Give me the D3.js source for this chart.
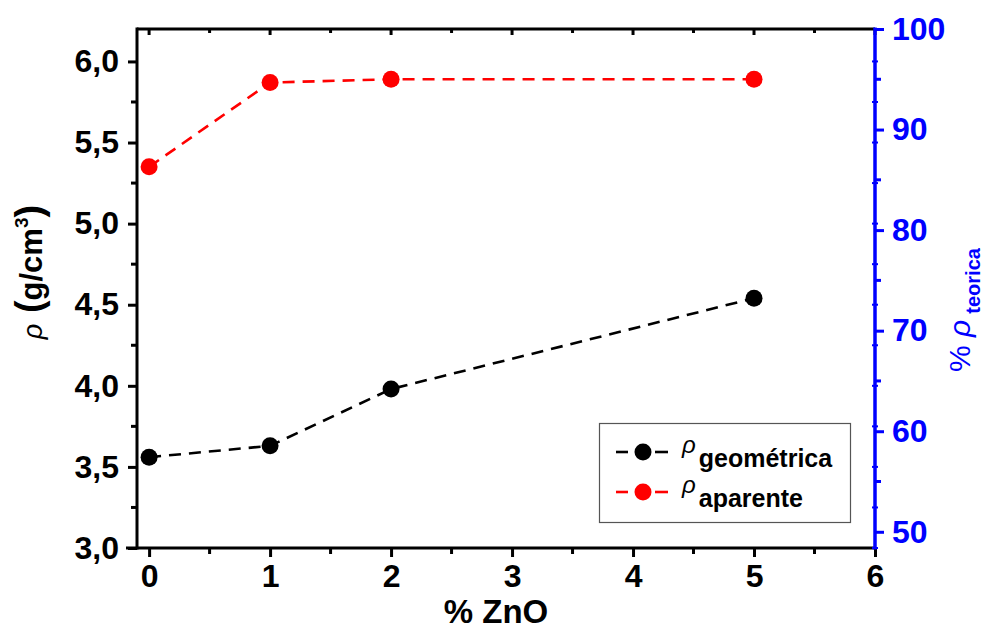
<!DOCTYPE html>
<html>
<head>
<meta charset="utf-8">
<script src="https://cdn.jsdelivr.net/npm/d3@7"></script>
<style>
  html, body { margin: 0; padding: 0; background: #fff; }
  svg { display: block; font-family: "Liberation Sans", Arial, sans-serif; }
</style>
</head>
<body>
<svg id="chart" width="990" height="630"></svg>
<script>
// % ZnO content of each sample
const zno = [0, 1, 2, 5];
// Geometric density (g/cm3)
const rhoGeometrica = [3.56, 3.63, 3.98, 4.54];
// Apparent density (g/cm3)
const rhoAparente = [5.35, 5.87, 5.89, 5.89];
// Theoretical density used for the right-hand % axis
const rhoTeorica = 6.2;

const xTicks = [0, 1, 2, 3, 4, 5, 6];
const yLeftTicks = [3.0, 3.5, 4.0, 4.5, 5.0, 5.5, 6.0];
const yRightTicks = [50, 60, 70, 80, 90, 100];

const series = [
  { name: "geométrica", values: rhoGeometrica, color: "#000000" },
  { name: "aparente", values: rhoAparente, color: "#ff0000" }
];

const svg = d3.select("#chart");
const L = 137, R = 875, T = 29, B = 548;
const tickFont = 32;

const x = d3.scaleLinear().domain([-0.1, 6]).range([L, R]);
const yL = d3.scaleLinear().domain([3.0, 6.2]).range([B, T]);
const yR = d3.scaleLinear().domain([3.0 / rhoTeorica * 100, 100]).range([B, T]);

const fmtComma = d => d3.format(".1f")(d).replace(".", ",");

// Frame top
svg.append("line").attr("x1", L).attr("x2", R).attr("y1", T).attr("y2", T)
  .attr("stroke", "#000").attr("stroke-width", 3);

// Top inward ticks
svg.append("g").selectAll("line").data(d3.range(0, 6.01, 0.5)).join("line")
  .attr("x1", d => x(d)).attr("x2", d => x(d))
  .attr("y1", T).attr("y2", d => T + (Number.isInteger(d) ? 6 : 4))
  .attr("stroke", "#000").attr("stroke-width", 3);

// Bottom axis
const xAxis = d3.axisBottom(x).tickValues(xTicks).tickSize(9).tickPadding(7).tickFormat(d3.format("d"));
const gx = svg.append("g").attr("transform", `translate(0,${B})`).call(xAxis);
gx.select(".domain").remove();
gx.append("line").attr("x1", L - 11).attr("x2", R).attr("y1", 0).attr("y2", 0)
  .attr("stroke", "#000").attr("stroke-width", 3);
gx.selectAll(".tick line").attr("stroke", "#000").attr("stroke-width", 3);
gx.selectAll(".tick text").attr("fill", "#000").attr("font-size", tickFont).attr("font-weight", "bold")
  .attr("font-family", "Liberation Sans, Arial, sans-serif");
gx.append("g").selectAll("line").data(d3.range(0.5, 6, 1)).join("line")
  .attr("x1", d => x(d)).attr("x2", d => x(d)).attr("y1", 0).attr("y2", 6)
  .attr("stroke", "#000").attr("stroke-width", 3);

// Left axis
const yAxisL = d3.axisLeft(yL).tickValues(yLeftTicks).tickSize(9).tickPadding(9).tickFormat(fmtComma);
const gyl = svg.append("g").attr("transform", `translate(${L},0)`).call(yAxisL);
gyl.select(".domain").remove();
gyl.append("line").attr("x1", 0).attr("x2", 0).attr("y1", T - 1.5).attr("y2", B + 1.5)
  .attr("stroke", "#000").attr("stroke-width", 3);
gyl.selectAll(".tick line").attr("stroke", "#000").attr("stroke-width", 3);
gyl.selectAll(".tick text").attr("fill", "#000").attr("font-size", tickFont).attr("font-weight", "bold")
  .attr("font-family", "Liberation Sans, Arial, sans-serif");
gyl.append("g").selectAll("line").data(d3.range(3.25, 6.2, 0.5)).join("line")
  .attr("x1", 0).attr("x2", -6).attr("y1", d => yL(d)).attr("y2", d => yL(d))
  .attr("stroke", "#000").attr("stroke-width", 3);

// Right axis (blue)
const blue = "#0000ff";
const yAxisR = d3.axisRight(yR).tickValues(yRightTicks).tickSize(9).tickPadding(8).tickFormat(d3.format("d"));
const gyr = svg.append("g").attr("transform", `translate(${R},0)`).call(yAxisR);
gyr.select(".domain").remove();
gyr.append("line").attr("x1", 0).attr("x2", 0).attr("y1", T - 1.5).attr("y2", B + 1.5)
  .attr("stroke", blue).attr("stroke-width", 3.5);
gyr.selectAll(".tick line").attr("stroke", blue).attr("stroke-width", 3);
gyr.selectAll(".tick text").attr("fill", blue).attr("font-size", tickFont).attr("font-weight", "bold")
  .attr("font-family", "Liberation Sans, Arial, sans-serif");
gyr.append("g").selectAll("line").data(d3.range(55, 100, 10)).join("line")
  .attr("x1", 0).attr("x2", 6).attr("y1", d => yR(d)).attr("y2", d => yR(d))
  .attr("stroke", blue).attr("stroke-width", 3);
// small nubs mirroring the left-axis ticks
gyr.append("g").selectAll("line").data(d3.range(3.0, 6.2, 0.25)).join("line")
  .attr("x1", -3).attr("x2", 3).attr("y1", d => yL(d)).attr("y2", d => yL(d))
  .attr("stroke", blue).attr("stroke-width", 2);

// Series lines and markers
const line = d3.line().x(d => x(d[0])).y(d => yL(d[1]));
series.forEach(s => {
  const pts = zno.map((z, i) => [z, s.values[i]]);
  svg.append("path").datum(pts).attr("d", line)
    .attr("fill", "none").attr("stroke", s.color).attr("stroke-width", 2.6)
    .attr("stroke-dasharray", "12,8");
  svg.append("g").selectAll("circle").data(pts).join("circle")
    .attr("cx", d => x(d[0])).attr("cy", d => yL(d[1])).attr("r", 8.5)
    .attr("fill", s.color);
});

// Legend
const lg = svg.append("g");
lg.append("rect").attr("x", 599.5).attr("y", 423.5).attr("width", 251).attr("height", 99)
  .attr("fill", "#fff").attr("stroke", "#555").attr("stroke-width", 1.2);
series.forEach((s, i) => {
  const cy = 452 + i * 40;
  lg.append("line").attr("x1", 616).attr("x2", 628).attr("y1", cy).attr("y2", cy)
    .attr("stroke", s.color).attr("stroke-width", 2.6);
  lg.append("line").attr("x1", 655).attr("x2", 668).attr("y1", cy).attr("y2", cy)
    .attr("stroke", s.color).attr("stroke-width", 2.6);
  lg.append("circle").attr("cx", 643).attr("cy", cy).attr("r", 8.5).attr("fill", s.color);
  const t = lg.append("text").attr("x", 682).attr("y", cy + 1).attr("fill", "#000");
  t.append("tspan").text("ρ").attr("font-style", "italic").attr("font-size", 24);
  t.append("tspan").text(s.name).attr("dx", 3).attr("dy", 14).attr("font-weight", "bold").attr("font-size", 25);
});

// Axis titles
svg.append("text").attr("x", 496).attr("y", 623).attr("text-anchor", "middle")
  .attr("font-size", 33).attr("font-weight", "bold").attr("fill", "#000").text("% ZnO");

const tl = svg.append("text").attr("transform", "translate(42,272) rotate(-90)")
  .attr("text-anchor", "middle").attr("fill", "#000");
tl.append("tspan").text("ρ").attr("font-style", "italic").attr("font-size", 27);
tl.append("tspan").text(" (").attr("font-weight", "bold").attr("font-size", 38);
tl.append("tspan").text("g/cm").attr("font-weight", "bold").attr("font-size", 31);
tl.append("tspan").text("3").attr("font-weight", "bold").attr("font-size", 19).attr("dy", -14);
tl.append("tspan").text(")").attr("font-weight", "bold").attr("font-size", 38).attr("dy", 14);

const tr = svg.append("text").attr("transform", "translate(970,310) rotate(-90)")
  .attr("text-anchor", "middle").attr("fill", blue);
tr.append("tspan").text("% ").attr("font-size", 30);
tr.append("tspan").text("ρ").attr("font-style", "italic").attr("font-size", 30);
tr.append("tspan").text("teorica").attr("font-weight", "bold").attr("font-size", 20).attr("dx", 6).attr("dy", 10);
</script>
</body>
</html>
